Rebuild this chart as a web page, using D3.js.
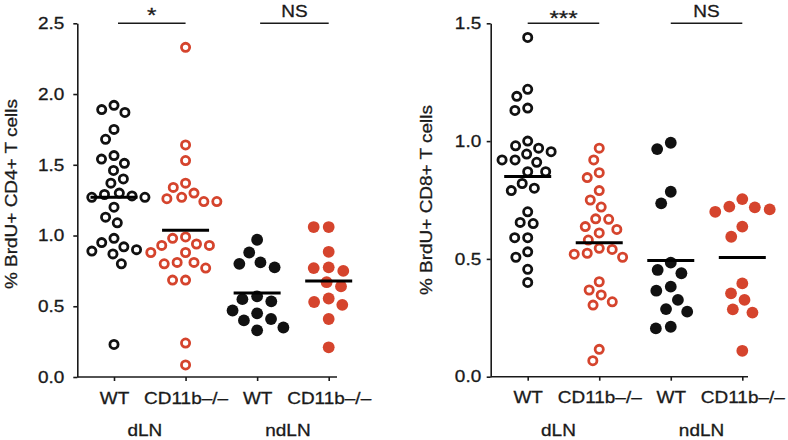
<!DOCTYPE html>
<html lang="en">
<head>
<meta charset="UTF-8">
<title>BrdU+ T cells</title>
<script src="https://d3js.org/d3.v7.min.js"></script>
<style>
  body { margin: 0; background: #fff; }
  svg text { font-family: "Liberation Sans", Arial, Helvetica, sans-serif; fill: #1a1a1a; stroke: #1a1a1a; stroke-width: 0.3; }
  .axis path, .axis line { stroke: #1a1a1a; stroke-width: 1.6; }
</style>
</head>
<body>
<script>
// categories
const groups = ["WT", "CD11b\u2013/\u2013", "WT", "CD11b\u2013/\u2013"];
const sites = ["dLN", "ndLN"];

// % BrdU+ CD4+ T cells
const cd4WtDln = [1.89, 1.87, 1.92, 1.75, 1.68, 1.54, 1.565, 1.51, 1.46, 1.40, 1.37, 1.29, 1.27, 1.30, 1.27, 1.28, 1.20, 1.13, 1.09, 0.98, 0.95, 0.90, 0.92, 0.87, 0.89, 0.80, 0.23];
const cd4KoDln = [2.33, 1.64, 1.53, 1.34, 1.37, 1.27, 1.24, 1.24, 1.26, 1.30, 0.99, 0.93, 0.93, 0.94, 0.98, 0.88, 0.88, 0.81, 0.80, 0.81, 0.77, 0.685, 0.685, 0.24, 0.085];
const cd4WtNdln = [0.97, 0.88, 0.80, 0.775, 0.81, 0.55, 0.57, 0.535, 0.47, 0.45, 0.41, 0.40, 0.33, 0.35];
const cd4KoNdln = [1.06, 1.06, 0.885, 0.775, 0.75, 0.77, 0.67, 0.64, 0.53, 0.51, 0.555, 0.41, 0.21];

// % BrdU+ CD8+ T cells
const cd8WtDln = [1.44, 1.22, 1.19, 1.14, 1.13, 1.00, 0.97, 0.945, 0.955, 0.98, 0.92, 0.91, 0.92, 0.87, 0.87, 0.82, 0.79, 0.80, 0.70, 0.65, 0.655, 0.59, 0.59, 0.53, 0.507, 0.456, 0.40];
const cd8KoDln = [0.97, 0.92, 0.866, 0.845, 0.79, 0.75, 0.72, 0.67, 0.668, 0.625, 0.61, 0.637, 0.58, 0.54, 0.52, 0.507, 0.524, 0.545, 0.403, 0.368, 0.347, 0.318, 0.304, 0.116, 0.068];
const cd8WtNdln = [0.993, 0.966, 0.785, 0.736, 0.484, 0.453, 0.439, 0.365, 0.382, 0.326, 0.287, 0.276, 0.205, 0.212];
const cd8KoNdln = [0.754, 0.719, 0.70, 0.71, 0.722, 0.637, 0.594, 0.396, 0.354, 0.326, 0.286, 0.272, 0.11];

// tick labels and significance marks
const cd4Ticks = [0, 0.5, 1.0, 1.5, 2.0, 2.5];
const cd8Ticks = [0, 0.5, 1.0, 1.5];
const cd4Sig = ["*", "NS"];
const cd8Sig = ["***", "NS"];

const width = 788, height = 440;
const K = 1.15; // the original font is wider than Liberation Sans
const FS = "16.5px";
const red = "#d5442d", black = "#111";

const svg = d3.select("body").append("svg")
  .attr("width", width)
  .attr("height", height);

// stretch text horizontally around its own anchor
function stretch(sel) {
  sel.each(function() {
    const t = d3.select(this);
    const x = +t.attr("x") || 0, y = +t.attr("y") || 0;
    t.attr("x", 0).attr("y", 0).attr("transform", `translate(${x},${y}) scale(${K},1)`);
  });
}

// simple compact beeswarm: each point goes as close to the centre as it can
function swarm(values, y, D) {
  const pts = values.map(v => ({ v, py: y(v) })).sort((a, b) => a.py - b.py);
  const placed = [];
  pts.forEach(p => {
    const near = placed.filter(q => Math.abs(q.py - p.py) < D);
    const cands = [0];
    near.forEach(q => {
      const h = Math.sqrt(D * D - (q.py - p.py) ** 2);
      cands.push(q.dx + h, q.dx - h);
    });
    cands.sort((a, b) => Math.abs(a) - Math.abs(b) || a - b);
    p.dx = cands.find(c => near.every(q => (q.dx - c) ** 2 + (q.py - p.py) ** 2 >= D * D - 1e-6));
    placed.push(p);
  });
  return pts;
}

function drawPanel(cfg) {
  const g = svg.append("g");
  const y = d3.scaleLinear().domain(cfg.yDomain).range([cfg.bottom, cfg.top]);
  const x = d3.scalePoint().domain(d3.range(4)).range(cfg.xRange);

  // y axis
  const ya = g.append("g").attr("class", "axis")
    .attr("transform", `translate(${cfg.left},0)`)
    .call(d3.axisLeft(y).tickValues(cfg.ticks).tickFormat(d3.format(".1f"))
      .tickSize(4).tickSizeOuter(0).tickPadding(cfg.tickPad));
  ya.selectAll("text").style("font-size", FS);
  stretch(ya.selectAll("text"));

  // x axis
  const xa = g.append("g").attr("class", "axis")
    .attr("transform", `translate(0,${cfg.bottom})`)
    .call(d3.axisBottom(x).tickSize(4).tickSizeOuter(0).tickPadding(11).tickFormat(i => groups[i]));
  xa.select(".domain").attr("d", `M${cfg.left},0H${cfg.right}`);
  xa.selectAll("text").style("font-size", FS);
  stretch(xa.selectAll("text"));

  // site labels
  sites.forEach((s, k) => {
    const t = g.append("text")
      .attr("x", (x(2 * k) + x(2 * k + 1)) / 2 - 5)
      .attr("y", 435.5)
      .attr("text-anchor", "middle")
      .style("font-size", FS)
      .text(s);
    stretch(t);
  });

  // y title
  g.append("text")
    .attr("transform", `translate(${cfg.titleX},${cfg.titleY}) rotate(-90) scale(${K},1)`)
    .attr("text-anchor", "middle")
    .style("font-size", FS)
    .text(cfg.title);

  // points
  cfg.series.forEach((vals, i) => {
    const filled = i >= 2;
    const col = i % 2 === 0 ? black : red;
    const pts = swarm(vals, y, filled ? 15 : 13);
    g.append("g").selectAll("circle")
      .data(pts)
      .join("circle")
      .attr("cx", d => x(i) + d.dx)
      .attr("cy", d => d.py)
      .attr("r", filled ? 5.9 : 4.1)
      .attr("fill", filled ? col : "none")
      .attr("stroke", filled ? "none" : col)
      .attr("stroke-width", 2.8);

    const m = d3.mean(vals);
    g.append("line")
      .attr("x1", x(i) - 23.5).attr("x2", x(i) + 23.5)
      .attr("y1", y(m)).attr("y2", y(m))
      .attr("stroke", "#000")
      .attr("stroke-width", 3);
  });

  // significance bars
  cfg.sig.forEach((s, k) => {
    const x1 = x(2 * k) + (cfg.barInset[k] || 0), x2 = x(2 * k + 1);
    g.append("line")
      .attr("x1", x1).attr("x2", x2)
      .attr("y1", cfg.top).attr("y2", cfg.top)
      .attr("stroke", "#1a1a1a")
      .attr("stroke-width", 1.6);
    const t = g.append("text")
      .attr("x", (x1 + x2) / 2)
      .attr("y", s === "NS" ? 16.5 : cfg.starY)
      .attr("text-anchor", "middle")
      .style("font-size", s === "NS" ? FS : "21px")
      .text(s);
    stretch(t);
  });
}

drawPanel({
  yDomain: [0, 2.5], ticks: cd4Ticks, top: 23.3, bottom: 377,
  left: 77.3, right: 337, xRange: [114, 328.7], tickPad: 9,
  title: "% BrdU+ CD4+ T cells", titleX: 16.5, titleY: 194,
  series: [cd4WtDln, cd4KoDln, cd4WtNdln, cd4KoNdln],
  sig: cd4Sig, barInset: [4, 3], starY: 22
});

drawPanel({
  yDomain: [0, 1.5], ticks: cd8Ticks, top: 23.3, bottom: 376.7,
  left: 490.7, right: 748, xRange: [527.7, 742.3], tickPad: 5.5,
  title: "% BrdU+ CD8+ T cells", titleX: 431.5, titleY: 200,
  series: [cd8WtDln, cd8KoDln, cd8WtNdln, cd8KoNdln],
  sig: cd8Sig, barInset: [0, 0], starY: 25
});
</script>
</body>
</html>
